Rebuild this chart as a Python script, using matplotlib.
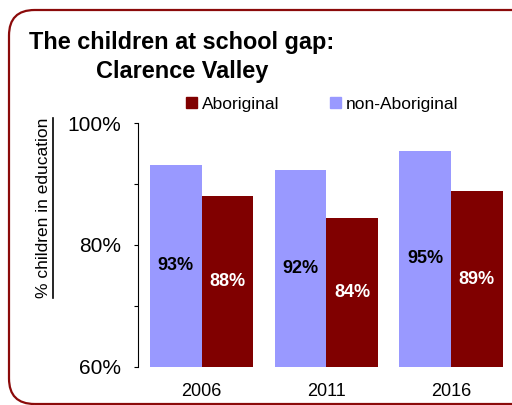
import matplotlib
matplotlib.use("Agg")
import matplotlib.pyplot as plt
import numpy as np
from matplotlib.patches import FancyBboxPatch, Patch
from matplotlib.lines import Line2D

plt.rcParams['font.family'] = ['Liberation Sans', 'DejaVu Sans']

# Census share of children in education, Clarence Valley
years = ["2006", "2011", "2016"]
non_aboriginal = [93.2, 92.3, 95.4]
aboriginal = [88.0, 84.4, 88.8]

c_non = '#9999FF'
c_abo = '#800000'
border_c = '#8B0A0A'

W, H = 512, 405
fig = plt.figure(figsize=(W / 100, H / 100), dpi=100)

# rounded frame around the whole chart
frame = FancyBboxPatch((9 / W, 1 / H), (540 - 9) / W, (395 - 1) / H,
                       boxstyle="round,pad=0,rounding_size=0.05",
                       transform=fig.transFigure, facecolor='none',
                       edgecolor=border_c, linewidth=1.6,
                       mutation_aspect=W / H, zorder=0)
fig.patches.append(frame)

ax = fig.add_axes([137.5 / W, (H - 366.7) / H, (512 - 137.5) / W, (366.7 - 123.3) / H])
ax.patch.set_alpha(0)

x = np.arange(len(years))
bw = 0.415
b_non = ax.bar(x - bw / 2, [v - 60 for v in non_aboriginal], bw, bottom=60,
               color=c_non, label='non-Aboriginal')
b_abo = ax.bar(x + bw / 2, [v - 60 for v in aboriginal], bw, bottom=60,
               color=c_abo, label='Aboriginal')

for xi, v in zip(x - bw / 2, non_aboriginal):
    ax.text(xi, (60 + v) / 2, f"{v:.0f}%", ha='center', va='center',
            fontsize=13, fontweight='bold', color='black')
for xi, v in zip(x + bw / 2, aboriginal):
    ax.text(xi, (60 + v) / 2, f"{v:.0f}%", ha='center', va='center',
            fontsize=13, fontweight='bold', color='white')

ax.set_ylim(60, 100)
ax.set_xlim(-0.516, 2.49)
ax.set_yticks([60, 80, 100])
ax.set_yticklabels(["60%", "80%", "100%"])
ax.set_yticks([70, 90], minor=True)
ax.tick_params(axis='y', which='both', direction='out', length=3, width=0.8,
               labelsize=15, pad=9)
ax.set_xticks(x)
ax.set_xticklabels(years)
ax.tick_params(axis='x', length=0, labelsize=13, pad=12)
for s in ['top', 'right', 'bottom']:
    ax.spines[s].set_visible(False)
ax.spines['left'].set_linewidth(0.8)

# title, two lines
fig.text(29 / W, (H - 49.3) / H, "The children at school gap:", fontsize=16.9,
         fontweight='bold', ha='left', va='baseline')
fig.text(96 / W, (H - 78.3) / H, "Clarence Valley", fontsize=16.9,
         fontweight='bold', ha='left', va='baseline')

# legend
handles = [Patch(color=c_abo), Patch(color=c_non)]
ax.legend(handles, ['Aboriginal', 'non-Aboriginal'], ncol=2, frameon=False,
          loc='center left', bbox_to_anchor=(186 / W, (H - 104) / H),
          bbox_transform=fig.transFigure, fontsize=12.5, handlelength=0.65,
          handleheight=0.65, handletextpad=0.27, columnspacing=2.9,
          borderpad=0, borderaxespad=0)

# underlined axis title
yl = fig.text(44 / W, (H - 208) / H, "% children in education", rotation=90,
              fontsize=12.5, ha='center', va='center')
fig.canvas.draw()
bb = yl.get_window_extent().transformed(fig.transFigure.inverted())
fig.add_artist(Line2D([53 / W, 53 / W], [bb.y0, bb.y1], color='black',
                      linewidth=1.2, transform=fig.transFigure))

fig.savefig("out.png", dpi=100)
